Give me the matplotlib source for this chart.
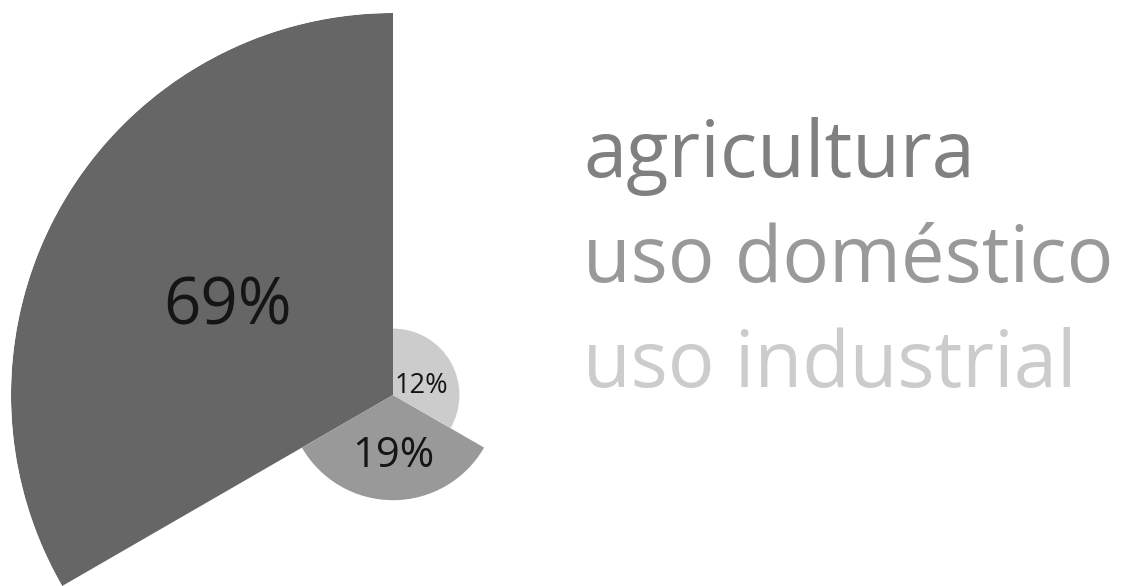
import numpy as np
import matplotlib
matplotlib.use('Agg')
import matplotlib.pyplot as plt
from matplotlib.transforms import offset_copy

# water use by sector (%), three equal sectors, radius proportional to share
categories = ['agricultura', 'uso doméstico', 'uso industrial']
values = [69, 19, 12]
labels = ['69%', '19%', '12%']
slice_colors = ['#666666', '#999999', '#cccccc']
text_colors = ['#808080', '#999999', '#cccccc']
label_sizes = [47, 30, 19.5]

W, H = 1121, 586
fig = plt.figure(figsize=(W / 100, H / 100), dpi=100)
fig.patch.set_facecolor('white')

# polar axes placed so the centre sits at (393, 395) px with radius 382 px
cx, cy, R = 393, 395, 382
ax = fig.add_axes([(cx - R) / W, (H - cy - R) / H, 2 * R / W, 2 * R / H],
                  projection='polar')
ax.set_theta_zero_location('N')
ax.set_theta_direction(1)

n = len(values)
width = 2 * np.pi / n
theta = width * (np.arange(n) + 0.5)
ax.bar(theta, values, width=width, color=slice_colors, edgecolor='none',
       linewidth=0, align='center')
ax.set_ylim(0, max(values))

# labels sit a touch below the half-radius point of each slice
label_tr = offset_copy(ax.transData, fig=fig, x=0, y=-8, units='dots')
for t, v, lab, fs in zip(theta, values, labels, label_sizes):
    ax.text(t, v * 0.5, lab, ha='center', va='center', fontsize=fs,
            color='#151515', family='Open Sans', transform=label_tr)

ax.grid(False)
ax.set_xticks([])
ax.set_yticks([])
ax.spines['polar'].set_visible(False)
ax.patch.set_alpha(0)

# category legend as coloured words
baselines = [177, 282, 387]
for name, col, yb in zip(categories, text_colors, baselines):
    fig.text(583 / W, (H - yb) / H, name, ha='left', va='baseline',
             fontsize=56, color=col, family='Open Sans')

fig.savefig('out.png', dpi=100, facecolor='white')
